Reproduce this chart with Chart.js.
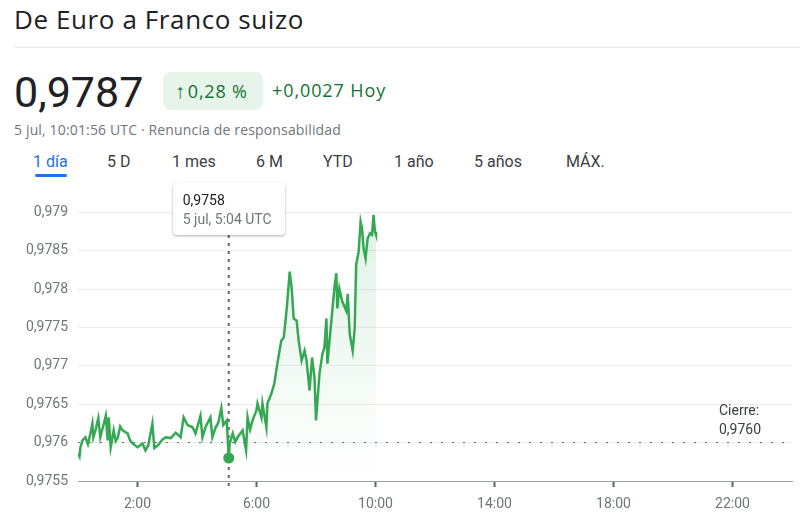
<!DOCTYPE html>
<html>
<head>
<meta charset="utf-8">
<script src="https://cdn.jsdelivr.net/npm/chart.js@4"></script>
<style>
  body { margin: 0; background: #fff; font-family: Roboto, Arial, sans-serif; }
  #wrap { position: relative; width: 800px; height: 519px; overflow: hidden; }
  .abs { position: absolute; white-space: nowrap; }
  #title { left: 14px; top: 1px; font-family: 'Open Sans', Roboto, sans-serif; font-size: 26px; letter-spacing: 0.6px; color: #202124; }
  #sep { left: 14px; top: 47px; width: 786px; height: 1px; background: #ebebeb; }
  #price { left: 14px; top: 67px; font-size: 43px; color: #202124; }
  #badge { left: 163px; top: 72px; width: 100px; height: 38px; border-radius: 8px; background: #e6f4ea; box-sizing: border-box;
           padding-left: 12px; color: #137333; font-family: 'Open Sans', Roboto, sans-serif; font-size: 18px; line-height: 38px; letter-spacing: 0.8px; }
  #badge .arr { font-size: 20px; margin-right: 2px; }
  #delta { left: 272px; top: 78px; font-family: 'Open Sans', Roboto, sans-serif; font-size: 18px; letter-spacing: 0.9px; color: #137333; }
  #stamp { left: 14px; top: 120px; font-family: 'Open Sans', Roboto, sans-serif; font-size: 14px; letter-spacing: 0.15px; color: #70757a; }
  .tab { top: 152px; font-size: 16px; color: #3c4043; }
  .tab.on { color: #1a73e8; }
  #uline { left: 35px; top: 174px; width: 32px; height: 3px; border-radius: 2px; background: #1a73e8; }
  #chartBox { position: absolute; left: 0; top: 175px; width: 800px; height: 344px; }
  #tip { position: absolute; top: 183px; width: 112px; height: 52px; background: #fff; border-radius: 4px;
         box-shadow: 0 1px 3px rgba(60,64,67,.3), 0 1px 2px rgba(60,64,67,.15); box-sizing: border-box; padding: 8px 10px; }
  #tip .v { font-size: 14px; color: #202124; line-height: 18px; }
  #tip .d { font-size: 14px; color: #70757a; line-height: 20px; }
</style>
</head>
<body>
<div id="wrap">
  <div class="abs" id="title">De Euro a Franco suizo</div>
  <div class="abs" id="sep"></div>
  <div class="abs" id="price">0,9787</div>
  <div class="abs" id="badge"><span class="arr">↑</span>0,28 %</div>
  <div class="abs" id="delta">+0,0027 Hoy</div>
  <div class="abs" id="stamp">5 jul, 10:01:56 UTC · Renuncia de responsabilidad</div>
  <div class="abs tab on" style="left:33px">1 día</div>
  <div class="abs tab" style="left:107px">5 D</div>
  <div class="abs tab" style="left:172px">1 mes</div>
  <div class="abs tab" style="left:256px">6 M</div>
  <div class="abs tab" style="left:323px">YTD</div>
  <div class="abs tab" style="left:394px">1 año</div>
  <div class="abs tab" style="left:474px">5 años</div>
  <div class="abs tab" style="left:566px">MÁX.</div>
  <div class="abs" id="uline"></div>
  <div id="chartBox"><canvas id="fxChart"></canvas></div>
  <div id="tip"><div class="v">0,9758</div><div class="d">5 jul, 5:04 UTC</div></div>
</div>

<script>
// --- Data (minutes since 00:00 UTC, 5 jul) ---
const minutes = [0, 3, 5, 9, 15, 20, 25, 29, 31, 36, 41, 45, 51, 56, 60, 62, 66, 72, 76, 80, 85, 90, 100, 105, 110, 120, 130,
  136, 142, 150, 154, 162, 170, 177, 187, 197, 207, 213, 221, 231, 237, 247, 251, 257, 267, 271, 277, 283,
  289, 293, 300, 304, 306, 312, 317, 322, 332, 339, 342, 347, 352, 360, 362, 370, 372, 380, 382, 390, 396, 402,
  410, 415, 421, 427, 431, 435, 441, 445, 451, 457, 461, 467, 472, 477, 480, 483, 487, 493, 497, 501,
  503, 511, 517, 521, 523, 527, 533, 541, 544, 548, 554, 558, 561, 566, 570, 573, 576, 580, 584, 589,
  593, 596, 599, 601];
const prices = [0.97586, 0.97582, 0.97594, 0.97603, 0.97607, 0.97598, 0.97612, 0.97625, 0.97607, 0.97618, 0.97632, 0.97607, 0.97622, 0.97635,
  0.97603, 0.97633, 0.97594, 0.97616, 0.97602, 0.97606, 0.97621, 0.97616, 0.97612, 0.97603, 0.97599, 0.97594, 0.97599,
  0.9759, 0.97597, 0.97625, 0.97593, 0.97597, 0.97604, 0.97607, 0.97606, 0.97613, 0.97607, 0.97633,
  0.97623, 0.9762, 0.97612, 0.97635, 0.97607, 0.9762, 0.97633, 0.97607, 0.97619, 0.97626,
  0.97645, 0.97623, 0.97629, 0.9758, 0.97599, 0.97612, 0.97601, 0.97607, 0.97616, 0.9759, 0.97633, 0.97617,
  0.97629, 0.97642, 0.97651, 0.97633, 0.97651, 0.9762, 0.97651, 0.97664, 0.97677, 0.97703,
  0.97733, 0.97737, 0.97775, 0.97823, 0.97801, 0.97762, 0.97759, 0.97733, 0.97707, 0.9772,
  0.97707, 0.97668, 0.97711, 0.97685, 0.97629, 0.97655, 0.9769, 0.97716, 0.97724, 0.97762,
  0.97703, 0.97759, 0.97801, 0.97821, 0.97775, 0.97801, 0.97784, 0.97772, 0.97794, 0.97742,
  0.9772, 0.97749, 0.97832, 0.97849, 0.97888, 0.97879, 0.97853, 0.9784, 0.97866, 0.97873,
  0.97871, 0.97897, 0.97875, 0.97871];
const xTickMinutes = [120, 360, 600, 840, 1080, 1320];
const yTicks = [0.9755, 0.976, 0.9765, 0.977, 0.9775, 0.978, 0.9785, 0.979];
const prevClose = 0.976;
const hoverMinute = 304;

const green = '#34a853';
const hoverIndex = minutes.indexOf(hoverMinute);
const comma = v => String(v).replace('.', ',');

// --- Extra drawing: close line, crosshair, "Cierre" label ---
const overlay = {
  id: 'overlay',
  beforeDatasetsDraw(chart) {
    const { ctx, chartArea, scales } = chart;
    const yc = scales.y.getPixelForValue(prevClose);
    ctx.save();
    ctx.strokeStyle = '#5f6368';
    ctx.lineWidth = 1;
    ctx.setLineDash([2, 9]);
    ctx.beginPath();
    ctx.moveTo(chartArea.left, yc);
    ctx.lineTo(chartArea.right - 8, yc);
    ctx.stroke();

    const xh = scales.x.getPixelForValue(hoverMinute);
    ctx.lineWidth = 2;
    ctx.setLineDash([3, 5]);
    ctx.beginPath();
    ctx.moveTo(xh, 60);
    ctx.lineTo(xh, chartArea.bottom + 10);
    ctx.stroke();
    ctx.setLineDash([]);

    ctx.fillStyle = '#3c4043';
    ctx.font = '14px Roboto';
    ctx.textBaseline = 'middle';
    ctx.textAlign = 'left';
    ctx.fillText('Cierre:', chartArea.right - 73, yc - 31);
    ctx.fillText(comma(prevClose.toFixed(4)), chartArea.right - 73, yc - 12);
    ctx.restore();
  },
  afterDraw(chart) {
    const xh = chart.scales.x.getPixelForValue(hoverMinute);
    document.getElementById('tip').style.left = (xh - 56) + 'px';
  }
};

document.addEventListener('DOMContentLoaded', function () {
  const ctx = document.getElementById('fxChart');
  new Chart(ctx, {
    type: 'line',
    data: {
      datasets: [{
        data: minutes.map((m, i) => ({ x: m, y: prices[i] })),
        borderColor: green,
        borderWidth: 2.5,
        tension: 0,
        fill: 'start',
        backgroundColor(c) {
          const area = c.chart.chartArea;
          if (!area) return 'rgba(52,168,83,0.1)';
          const g = c.chart.ctx.createLinearGradient(0, area.top, 0, area.bottom);
          g.addColorStop(0, 'rgba(52,168,83,0.16)');
          g.addColorStop(1, 'rgba(52,168,83,0)');
          return g;
        },
        pointRadius: c => c.dataIndex === hoverIndex ? 5.5 : 0,
        pointBackgroundColor: green,
        pointBorderWidth: 0
      }]
    },
    options: {
      responsive: true,
      maintainAspectRatio: false,
      animation: false,
      events: [],
      layout: { padding: { top: 6, right: 8, left: 0, bottom: 0 } },
      plugins: { legend: { display: false }, tooltip: { enabled: false } },
      scales: {
        x: {
          type: 'linear',
          min: 0,
          max: 1440,
          afterBuildTicks: s => { s.ticks = xTickMinutes.map(v => ({ value: v })); },
          afterFit: s => { s.height = 38; },
          ticks: {
            color: '#70757a',
            font: { family: 'Roboto', size: 14 },
            padding: 9,
            maxRotation: 0,
            callback: v => (v / 60) + ':00'
          },
          grid: { drawOnChartArea: false, drawTicks: true, tickLength: 6, tickWidth: 2, color: '#5f6368' },
          border: { color: '#9aa0a6', width: 1 }
        },
        y: {
          min: 0.9755,
          max: 0.97925,
          afterBuildTicks: s => { s.ticks = yTicks.map(v => ({ value: v })); },
          afterFit: s => { s.width = 78; },
          ticks: {
            color: '#70757a',
            font: { family: 'Roboto', size: 14 },
            padding: 10,
            callback: v => comma(v)
          },
          grid: { color: '#ececec', drawTicks: false },
          border: { display: false }
        }
      }
    },
    plugins: [overlay]
  });
});
</script>
</body>
</html>
